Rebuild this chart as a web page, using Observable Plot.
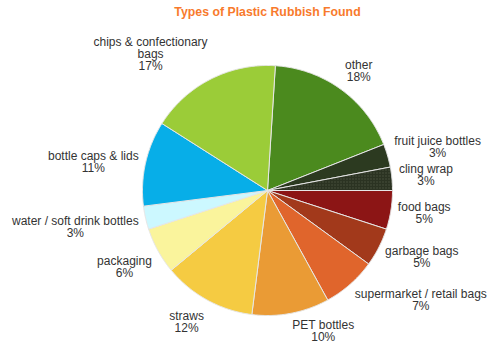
<!DOCTYPE html>
<html>
<head>
<meta charset="utf-8">
<script src="https://cdn.jsdelivr.net/npm/d3@7"></script>
<script src="https://cdn.jsdelivr.net/npm/@observablehq/plot@0.6"></script>
<style>
  html, body { margin: 0; padding: 0; background: #fff; }
  #chart svg { display: block; }
</style>
</head>
<body>
<div id="chart"></div>
<script>
const title = "Types of Plastic Rubbish Found";
const categories = [
  "other", "fruit juice bottles", "cling wrap", "food bags", "garbage bags",
  "supermarket / retail bags", "PET bottles", "straws", "packaging",
  "water / soft drink bottles", "bottle caps & lids", "chips & confectionary bags"
];
const labelLines = [
  ["other"], ["fruit juice bottles"], ["cling wrap"], ["food bags"], ["garbage bags"],
  ["supermarket / retail bags"], ["PET bottles"], ["straws"], ["packaging"],
  ["water / soft drink bottles"], ["bottle caps & lids"], ["chips & confectionary", "bags"]
];
const values = [18, 3, 3, 5, 5, 7, 10, 12, 6, 3, 11, 17];
const colors = [
  "#4b8a1e", "#2c3a20", "url(#clingDots)", "#8c1515", "#a2391b",
  "#e0652c", "#ea9b35", "#f5cb42", "#faf49c",
  "#ccf8ff", "#07aee8", "#9bcc38"
];

const W = 494, H = 345;
const cx = 267, cy = 190, R = 125;
const startOffset = 3.6 * Math.PI / 180;
const fontSize = 12;
const lineH = 12;

// measure text widths
const ctx = document.createElement("canvas").getContext("2d");
ctx.font = `${fontSize}px "Liberation Sans", Arial, sans-serif`;

const total = d3.sum(values);
const pie = d3.pie().sort(null).value(d => d)
  .startAngle(startOffset).endAngle(startOffset + 2 * Math.PI);
const arcs = pie(values);

// polygon points for each slice in unit coordinates (y up)
const slicePts = [];
arcs.forEach((a, i) => {
  const n = Math.max(4, Math.ceil((a.endAngle - a.startAngle) / 0.01));
  slicePts.push({k: i, x: 0, y: 0});
  for (let j = 0; j <= n; j++) {
    const t = a.startAngle + (a.endAngle - a.startAngle) * j / n;
    slicePts.push({k: i, x: Math.sin(t), y: Math.cos(t)});
  }
  slicePts.push({k: i, x: 0, y: 0});
});

// labels placed just outside the pie at each slice's mid-angle
const gap = 7;
const labels = arcs.map((a, i) => {
  const mid = (a.startAngle + a.endAngle) / 2;
  const dx = Math.sin(mid), dy = -Math.cos(mid);
  const lines = [...labelLines[i], Math.round(values[i] / total * 100) + "%"];
  const w = d3.max(lines, s => ctx.measureText(s).width);
  const h = lines.length * lineH;
  const px = (R + gap) * dx, py = (R + gap) * dy; // pixel offsets, y down
  const bx = px + Math.sign(dx) * w / 2;
  const off = Math.max(-h / 2, Math.min(h / 2, dy * h * 0.75));
  const by = py + off + (dx < 0 && dy > -0.5 ? 4 : -1);
  return {text: lines.join("\n"), x: bx / R, y: -by / R};
});

const chart = Plot.plot({
  width: W,
  height: H,
  margin: 0,
  x: {domain: [-1, 1], range: [cx - R, cx + R], axis: null},
  y: {domain: [-1, 1], range: [cy + R, cy - R], axis: null},
  style: {fontFamily: '"Liberation Sans", Arial, sans-serif', background: "#fff"},
  marks: [
    Plot.line(slicePts, {
      x: "x", y: "y", z: "k",
      fill: d => colors[d.k],
      stroke: "#e6e6e6", strokeWidth: 1, strokeLinejoin: "round", curve: "linear"
    }),
    Plot.text(labels, {
      x: "x", y: "y", text: "text",
      fontSize: fontSize, fill: "#333", lineHeight: lineH / fontSize,
      textAnchor: "middle", lineAnchor: "middle"
    }),
    Plot.text([title], {
      frameAnchor: "top", dy: 7, dx: 20, text: d => d,
      fontSize: 12.3, fontWeight: "bold", fill: "#f87a2c"
    })
  ]
});

// dotted pattern for cling wrap
const ns = "http://www.w3.org/2000/svg";
const defs = document.createElementNS(ns, "defs");
const pat = document.createElementNS(ns, "pattern");
pat.setAttribute("id", "clingDots");
pat.setAttribute("patternUnits", "userSpaceOnUse");
pat.setAttribute("width", "3");
pat.setAttribute("height", "3");
const bg = document.createElementNS(ns, "rect");
bg.setAttribute("width", "3"); bg.setAttribute("height", "3"); bg.setAttribute("fill", "#2b3322");
const dot = document.createElementNS(ns, "rect");
dot.setAttribute("x", "1"); dot.setAttribute("y", "1");
dot.setAttribute("width", "1"); dot.setAttribute("height", "1"); dot.setAttribute("fill", "#5d6652");
pat.appendChild(bg); pat.appendChild(dot);
defs.appendChild(pat);
chart.insertBefore(defs, chart.firstChild);

document.getElementById("chart").appendChild(chart);
</script>
</body>
</html>
